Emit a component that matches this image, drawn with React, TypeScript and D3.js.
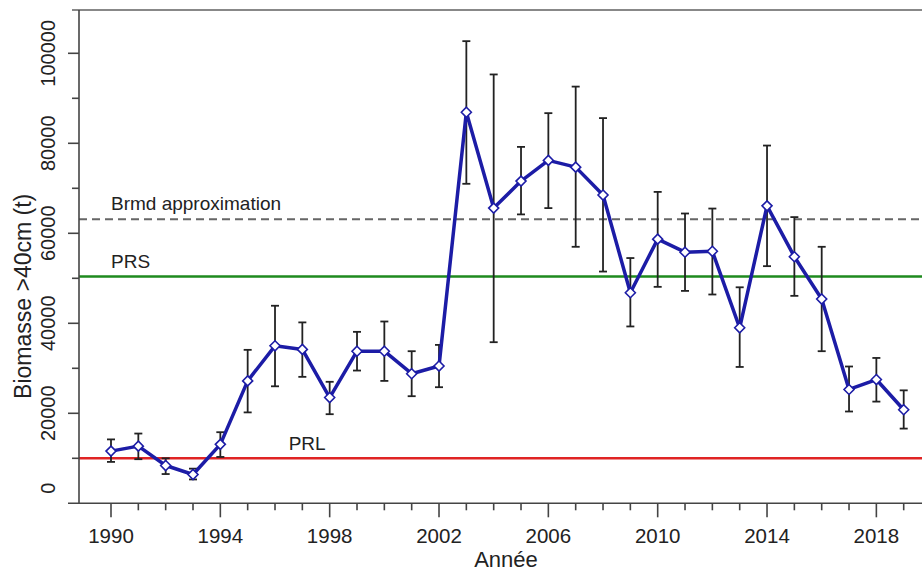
import { useMemo } from 'react';
import * as d3 from 'd3';

const years = [1990, 1991, 1992, 1993, 1994, 1995, 1996, 1997, 1998, 1999, 2000, 2001, 2002, 2003, 2004,
    2005, 2006, 2007, 2008, 2009, 2010, 2011, 2012, 2013, 2014, 2015, 2016, 2017, 2018, 2019];
const biomass = [11600, 12700, 8400, 6400, 13100, 27200, 35000, 34200, 23500, 33800, 33800, 28800, 30500, 86900, 65600,
    71600, 76200, 74700, 68500, 46800, 58700, 55800, 56000, 39000, 66100, 54800, 45400, 25300, 27500, 20800];
const upper = [14200, 15500, 10000, 7700, 15800, 34100, 43900, 40200, 27000, 38100, 40400, 33800, 35200, 102700, 95300,
    79200, 86700, 92600, 85600, 54500, 69200, 64400, 65500, 48000, 79500, 63600, 57000, 30400, 32300, 25100];
const lower = [9200, 9800, 6500, 5300, 10300, 20200, 26000, 28100, 19800, 29500, 27200, 23800, 25800, 71000, 35800,
    64200, 65600, 57000, 51500, 39300, 48100, 47200, 46400, 30300, 52700, 46100, 33800, 20400, 22600, 16600];

const yTicks = [0, 20000, 40000, 60000, 80000, 100000];
const yMinorTicks = [10000, 30000, 50000, 70000, 90000];
const xTickLabels = [1990, 1994, 1998, 2002, 2006, 2010, 2014, 2018];

const refLines = [
    { name: 'Brmd approximation', value: 63100, color: '#666666', dash: '8,5', width: 2, labelX: 1990, labelDy: -9 },
    { name: 'PRS', value: 50400, color: '#1e8a1e', dash: null, width: 2.5, labelX: 1990, labelDy: -9 },
    { name: 'PRL', value: 10000, color: '#e02424', dash: null, width: 2.5, labelX: 1996.5, labelDy: -8 },
];

const W = 922;
const H = 573;
const FONT = '"Liberation Sans", Arial, sans-serif';

export default function App() {
    const x = useMemo(() => d3.scaleLinear().domain([1990, 2019]).range([111, 903.7]), []);
    const y = useMemo(() => d3.scaleLinear().domain([0, 100000]).range([503.3, 53.3]), []);

    const axisX = 79;
    const axisY = y(0);
    const topY = 10;

    const line = d3.line<number>()
        .x((_, i) => x(years[i]))
        .y(d => y(d));

    const diamond = (cx: number, cy: number, r: number) =>
        `M${cx},${cy - r}L${cx + r},${cy}L${cx},${cy + r}L${cx - r},${cy}Z`;

    return (
        <svg width={W} height={H} style={{ position: 'absolute', left: 0, top: 0, background: '#fff' }}
            fontFamily={FONT}>
            {/* reference lines */}
            {refLines.map(r => (
                <g key={r.name}>
                    <line x1={axisX} x2={W} y1={y(r.value)} y2={y(r.value)}
                        stroke={r.color} strokeWidth={r.width} strokeDasharray={r.dash ?? undefined} />
                    <text x={x(r.labelX)} y={y(r.value) + r.labelDy} fontSize={19} fill="#222">{r.name}</text>
                </g>
            ))}

            {/* error bars */}
            {years.map((yr, i) => (
                <g key={yr} stroke="#222" strokeWidth={1.8}>
                    <line x1={x(yr)} x2={x(yr)} y1={y(upper[i])} y2={y(lower[i])} />
                    <line x1={x(yr) - 4} x2={x(yr) + 4} y1={y(upper[i])} y2={y(upper[i])} />
                    <line x1={x(yr) - 4} x2={x(yr) + 4} y1={y(lower[i])} y2={y(lower[i])} />
                </g>
            ))}

            {/* series */}
            <path d={line(biomass) ?? ''} fill="none" stroke="#1c1ca6" strokeWidth={3.5} strokeLinejoin="round" />
            {years.map((yr, i) => (
                <path key={yr} d={diamond(x(yr), y(biomass[i]), 5)} fill="#fff" stroke="#1c1ca6" strokeWidth={1.6} />
            ))}

            {/* frame */}
            <line x1={72} x2={W} y1={topY} y2={topY} stroke="#888" strokeWidth={2} />
            <line x1={axisX} x2={axisX} y1={topY} y2={axisY} stroke="#444" strokeWidth={1.6} />
            <line x1={68} x2={W} y1={axisY} y2={axisY} stroke="#444" strokeWidth={1.6} />

            {/* y axis ticks */}
            {yTicks.filter(t => t > 0).map(t => (
                <line key={t} x1={axisX - 11} x2={axisX} y1={y(t)} y2={y(t)} stroke="#444" strokeWidth={1.6} />
            ))}
            {yMinorTicks.map(t => (
                <line key={t} x1={axisX - 7} x2={axisX} y1={y(t)} y2={y(t)} stroke="#444" strokeWidth={1.6} />
            ))}
            {yTicks.map(t => (
                <text key={t} transform={`translate(48,${t === 0 ? y(t) - 15 : y(t)}) rotate(-90)`}
                    textAnchor="middle" dominantBaseline="central" fontSize={20} fill="#222">{t}</text>
            ))}

            {/* x axis ticks */}
            {years.map(yr => {
                const major = xTickLabels.includes(yr);
                return (
                    <line key={yr} x1={x(yr)} x2={x(yr)} y1={axisY} y2={axisY + (major ? 14 : 7)}
                        stroke="#444" strokeWidth={1.6} />
                );
            })}
            {xTickLabels.map(t => (
                <text key={t} x={x(t)} y={535} textAnchor="middle" dominantBaseline="central"
                    fontSize={20.5} fill="#222">{t}</text>
            ))}

            {/* axis titles */}
            <text x={506} y={559} textAnchor="middle" dominantBaseline="central"
                fontSize={22} fill="#222">Année</text>
            <text transform={`translate(23,${y(46000)}) rotate(-90)`} textAnchor="middle"
                dominantBaseline="central" fontSize={23} fill="#222">Biomasse &gt;40cm (t)</text>
        </svg>
    );
}
